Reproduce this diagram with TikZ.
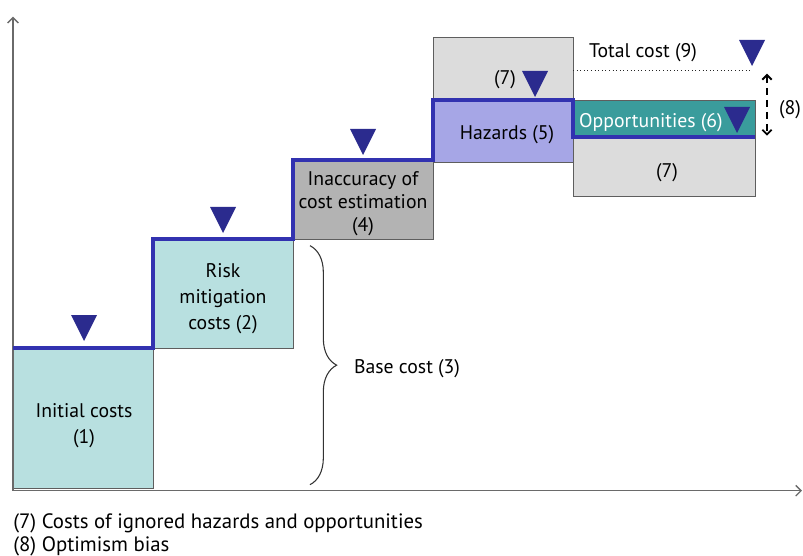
\documentclass[tikz,border=0pt]{standalone}
\usepackage{fontspec}
\setmainfont{PT Sans}
\usetikzlibrary{arrows.meta}
\usetikzlibrary{decorations.pathreplacing}

\definecolor{basecyan}{HTML}{B8E0E0}
\definecolor{estgray}{HTML}{B3B3B3}
\definecolor{ignoredgray}{HTML}{DCDCDC}
\definecolor{hazardpurple}{HTML}{A6A6E6}
\definecolor{oppteal}{HTML}{3A9C9C}
\definecolor{stairblue}{HTML}{3232B0}
\definecolor{markblue}{HTML}{2B2B8E}
\definecolor{boxline}{HTML}{5E5E5E}
\definecolor{axisgray}{HTML}{6A6A6A}

% inverted triangle, tip at the given point
\newcommand{\costmark}[2]{\fill[markblue] (#1,#2) -- ++(-13,-26) -- ++(26,0) -- cycle;}

\begin{document}
\begin{tikzpicture}[
						x=0.75pt, y=-0.75pt,
						every node/.style={font=\fontsize{14.8}{19.5}\selectfont, align=center, inner sep=0pt, yshift=-2pt},
						box/.style={draw=boxline, line width=0.7pt},
						stair/.style={draw=stairblue, line width=3pt, line join=miter},
						axis/.style={draw=axisgray, line width=1pt, -{Straight Barb[length=4pt,width=8pt]}},
						bias/.style={draw=black, line width=1.4pt, dash pattern=on 5pt off 4pt, {Straight Barb[length=3.5pt,width=7pt]}-{Straight Barb[length=3.5pt,width=7pt]}},
						brace/.style={draw=black!80, line width=0.8pt, decorate, decoration={brace, amplitude=20pt}},
						legend/.style={font=\fontsize{15.6}{18}\selectfont, anchor=west}
						]
						
						\useasboundingbox (0,0) rectangle (803,556);
						
						% boxes
						\draw[box, fill=basecyan] (13,348) rectangle (153,488);
						\draw[box, fill=basecyan] (153,239) rectangle (293,348);
						\draw[box, fill=estgray] (293,160) rectangle (433,239);
						\draw[box, fill=ignoredgray] (433,37) rectangle (573,100);
						\draw[box, fill=hazardpurple] (433,100) rectangle (573,162);
						\draw[box, fill=ignoredgray] (573,137) rectangle (755,196);
						\draw[box, fill=oppteal] (573,100) rectangle (755,137);
						
						% axes
						\coordinate (origin) at (13,488);
						\coordinate (ytip) at (13,14);
						\coordinate (xtip) at (802,488);
						\draw[axis] (origin) -- (ytip);
						\draw[axis] (origin) -- (xtip);
						
						% cost line
						\draw[stair] (13,348) -- (153,348) -- (153,239) -- (293,239) -- (293,160)
							-- (433,160) -- (433,100) -- (573,100) -- (573,137) -- (755,137);
						
						% total cost level
						\coordinate (totalstart) at (573,68);
						\coordinate (totalend) at (752,68);
						\draw[black!85, line width=0.7pt, dotted] (totalstart) -- (totalend);
						
						\costmark{84}{341}
						\costmark{223}{233}
						\costmark{363}{155}
						\costmark{535}{97}
						\costmark{737}{133}
						\costmark{752}{66}
						
						\node (initial) at (84,423) {Initial costs\\(1)};
						\node (mitigation) at (223,296) {Risk\\mitigation\\costs (2)};
						\node[font=\fontsize{14.8}{17.5}\selectfont] (inaccuracy) at (363,201) {Inaccuracy of\\cost estimation\\(4)};
						\node (ignoredtop) at (505,77) {(7)};
						\node (hazards) at (507,132) {Hazards (5)};
						\node[text=white] (opportunities) at (651,120) {Opportunities (6)};
						\node (ignoredlow) at (667,170) {(7)};
						\node (totalcost) at (643,50) {Total cost (9)};
						\node (biaslabel) at (790,107) {(8)};
						\node (basecost) at (407,366) {Base cost (3)};
						
						% optimism bias
						\coordinate (biastop) at (767,71);
						\coordinate (biasbot) at (767,133);
						\draw[bias] (biastop) -- (biasbot);
						
						% base cost brace
						\coordinate (bracetop) at (310,243);
						\coordinate (bracebot) at (310,482);
						\draw[brace] (bracetop) -- (bracebot);
						
						\node[legend] (legendseven) at (13,521) {(7) Costs of ignored hazards and opportunities};
						\node[legend] (legendeight) at (13,544) {(8) Optimism bias};
						
					\end{tikzpicture}
\end{document}
